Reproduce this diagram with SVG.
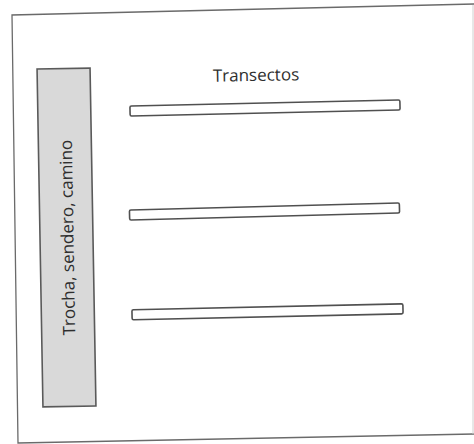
<svg xmlns="http://www.w3.org/2000/svg" width="474" height="444" viewBox="0 0 474 444">
  <style>
    .frame { fill: none; stroke: #6a6a6a; stroke-width: 1.3; }
    .frame-faint { fill: none; stroke: #d0d0d0; stroke-width: 1; }
    .trail { fill: #d9d9d9; stroke: #5a5a5a; stroke-width: 1.6; }
    .bar { fill: #ffffff; stroke: #505050; stroke-width: 1.6; }
    .lbl { font-family: "Open Sans", "Liberation Sans", sans-serif; font-size: 17px; fill: #2e2e2e; }
  </style>
  <rect width="474" height="444" fill="#ffffff"/>
  <path class="frame" d="M474,4 L12,15 L18,443 L474,434"/>
  <path class="frame-faint" d="M473,5 L473,434"/>
  <g id="trocha">
    <rect class="trail" x="40" y="68.5" width="53" height="338" transform="rotate(-1 66.5 237.5)"/>
    <text class="lbl" text-anchor="middle" transform="translate(73.5 237.5) rotate(-91)">Trocha, sendero, camino</text>
  </g>
  <g id="transectos-label">
    <text class="lbl" x="256" y="81" text-anchor="middle" transform="rotate(-1 256 76)">Transectos</text>
  </g>
  <g id="transectos">
    <rect id="transecto-1" class="bar" x="130" y="103" width="270" height="10" rx="1.5" transform="rotate(-1.27 265 108)"/>
    <rect id="transecto-2" class="bar" x="129.5" y="206.5" width="270" height="10" rx="1.5" transform="rotate(-1.5 264.5 211.5)"/>
    <rect id="transecto-3" class="bar" x="132" y="306.8" width="271" height="10" rx="1.5" transform="rotate(-1.27 267.5 311.8)"/>
  </g>
</svg>
